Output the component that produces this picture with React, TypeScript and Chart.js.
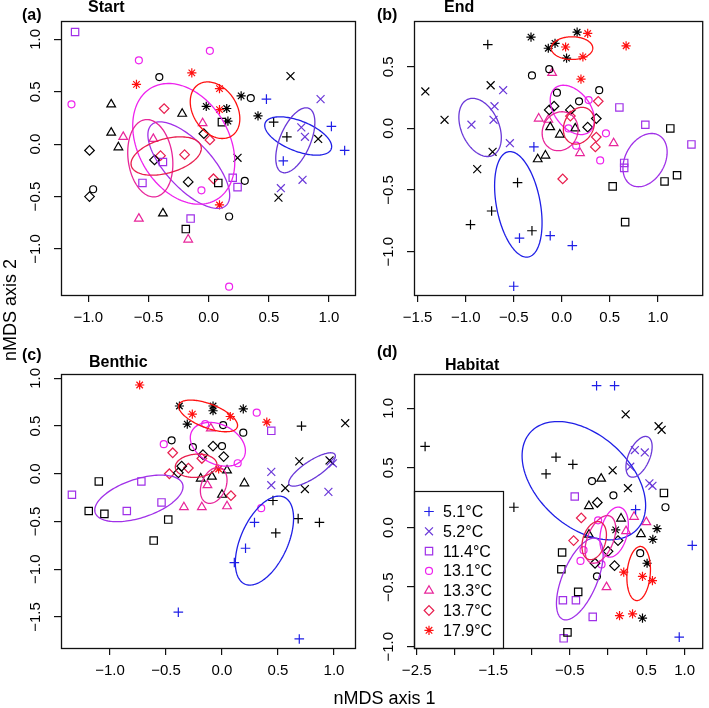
import React, { useEffect, useRef } from "react";
import { Chart, registerables } from "chart.js";
import { drawPoint } from "chart.js/helpers";

Chart.register(...registerables);

type Pt = [number, number];

const W = 709;
const H = 708;
const FONT = "'Liberation Sans', Arial, Helvetica, sans-serif";

// ---------- groups ----------
const GROUP_LABELS = ["5.1°C", "5.2°C", "11.4°C", "13.1°C", "13.3°C", "13.7°C", "17.9°C"];
const GROUP_COLORS = ["#1f1fe6", "#6a38d8", "#a030e8", "#ee22ee", "#e8259a", "#e81e4e", "#ff1010"];
const GROUP_SHAPES = ["cross", "crossRot", "rect", "circle", "triangle", "rectRot", "star"];
const SHAPE_RADIUS: Record<string, number> = {
  cross: 4.8, crossRot: 5.6, rect: 5.2, circle: 3.5, triangle: 5.0, rectRot: 4.8, star: 4.6,
};

// ---------- (a) Start ----------
const start51: Pt[] = [[0.48, 0.43], [1.02, 0.17], [1.13, -0.06], [0.62, -0.16]];
const start51k: Pt[] = [[0.54, 0.21], [0.65, 0.07]];
const start52: Pt[] = [[0.93, 0.43], [0.77, 0.16], [0.8, 0.07], [0.78, -0.34], [0.6, -0.42]];
const start52k: Pt[] = [[0.68, 0.65], [0.24, -0.13], [0.91, 0.05], [0.58, -0.51]];
const start114: Pt[] = [[-1.11, 1.07], [-0.38, -0.17], [-0.55, -0.37], [0.2, -0.32], [0.24, -0.41], [-0.15, -0.71]];
const start114k: Pt[] = [[0.11, 0.21], [0.08, -0.37], [-0.19, -0.81]];
const start131: Pt[] = [[-1.14, 0.38], [-0.58, 0.8], [0.01, 0.89], [-0.06, -0.44], [0.17, -1.36]];
const start131k: Pt[] = [[-0.41, 0.64], [0.35, 0.44], [0.3, -0.35], [0.17, -0.69], [-0.96, -0.43]];
const start133: Pt[] = [[-0.71, 0.07], [-0.46, 0.05], [-0.05, 0.2], [-0.58, -0.71], [-0.17, -0.91]];
const start133k: Pt[] = [[-0.81, 0.38], [-0.81, 0.11], [-0.75, -0.03], [-0.22, 0.29], [-0.38, -0.66]];
const start137: Pt[] = [[-0.37, 0.34], [-0.4, -0.11], [-0.2, -0.1], [0.04, -0.33], [0.01, 0.04]];
const start137k: Pt[] = [[-0.99, -0.06], [-0.99, -0.5], [-0.45, -0.15], [-0.17, -0.36], [-0.04, 0.1]];
const start179: Pt[] = [[-0.6, 0.57], [-0.14, 0.68], [0.09, 0.53], [0.09, 0.33], [0.09, -0.58]];
const start179k: Pt[] = [[-0.02, 0.36], [0.15, 0.34], [0.16, 0.22], [0.27, 0.46], [0.41, 0.27]];
// [group, centre x, centre y, half-width x, half-height y, correlation]
const startEllipses = [
  [0, 0.744, 0.078, 0.278, 0.183, -0.55],
  [1, 0.72, 0.037, 0.1625, 0.31, 0.55],
  [2, -0.165, -0.2, 0.34, 0.413, -0.7],
  [3, -0.207, 0.003, 0.424, 0.576, -0.3],
  [4, -0.485, -0.134, 0.1875, 0.369, -0.15],
  [5, -0.353, -0.113, 0.292, 0.183, 0.4],
  [6, 0.053, 0.324, 0.206, 0.27, -0.3],
];
const startXTicks = [-1, -0.5, 0, 0.5, 1];
const startXLabels = ["−1.0", "−0.5", "0.0", "0.5", "1.0"];
const startYTicks = [-1, -0.5, 0, 0.5, 1];
const startYLabels = ["−1.0", "−0.5", "0.0", "0.5", "1.0"];

// ---------- (b) End ----------
const end51: Pt[] = [[-0.29, -0.15], [-0.44, -0.89], [-0.12, -0.87], [0.11, -0.95], [-0.5, -1.28]];
const end51k: Pt[] = [[-0.77, 0.68], [-0.46, -0.44], [-0.73, -0.67], [-0.95, -0.78], [-0.31, -0.83]];
const end52: Pt[] = [[-0.61, 0.31], [-0.7, 0.18], [-0.71, 0.07], [-0.94, 0.03], [-0.54, -0.12]];
const end52k: Pt[] = [[-1.42, 0.3], [-1.22, 0.07], [-0.74, 0.35], [-0.72, -0.19], [-0.88, -0.33]];
const end114: Pt[] = [[0.6, 0.17], [0.87, 0.03], [1.35, -0.13], [0.65, -0.28], [0.65, -0.32]];
const end114k: Pt[] = [[1.13, 0.0], [0.53, -0.47], [1.07, -0.43], [1.2, -0.38], [0.66, -0.76]];
const end131: Pt[] = [[0.28, 0.23], [0.07, 0.0], [0.46, -0.04], [0.15, -0.14], [0.4, -0.26]];
const end131k: Pt[] = [[-0.31, 0.43], [-0.13, 0.48], [-0.05, 0.29], [0.18, 0.22], [0.39, 0.31]];
const end133: Pt[] = [[-0.1, 0.45], [-0.24, 0.08], [-0.14, 0.07], [0.19, -0.2], [0.54, -0.12]];
const end133k: Pt[] = [[-0.12, 0.01], [-0.02, -0.05], [0.14, 0.0], [-0.17, -0.22], [-0.25, -0.25]];
const end137: Pt[] = [[0.38, 0.22], [0.09, 0.1], [0.36, -0.07], [0.35, -0.15], [0.01, -0.41]];
const end137k: Pt[] = [[-0.13, 0.15], [-0.08, 0.18], [0.09, 0.15], [0.36, 0.08], [0.27, 0.01]];
const end179: Pt[] = [[0.04, 0.66], [0.27, 0.77], [0.22, 0.58], [0.67, 0.67], [0.2, 0.4]];
const end179k: Pt[] = [[-0.32, 0.74], [-0.14, 0.65], [-0.07, 0.69], [0.05, 0.57], [0.16, 0.78]];
const endEllipses = [
  [0, -0.452, -0.616, 0.247, 0.428, -0.35],
  [1, -0.85, 0.008, 0.221, 0.236, -0.35],
  [2, 0.867, -0.257, 0.23, 0.216, 0.3],
  [3, 0.11, 0.15, 0.23, 0.2, -0.4],
  [4, -0.017, -0.023, 0.187, 0.158, 0.1],
  [5, 0.179, 0.022, 0.162, 0.149, 0.2],
  [6, 0.107, 0.651, 0.216, 0.092, 0.0],
];
const endXTicks = [-1.5, -1, -0.5, 0, 0.5, 1];
const endXLabels = ["−1.5", "−1.0", "−0.5", "0.0", "0.5", "1.0"];
const endYTicks = [-1, -0.5, 0, 0.5];
const endYLabels = ["−1.0", "−0.5", "0.0", "0.5"];

// ---------- (c) Benthic ----------
const benthic51: Pt[] = [[0.11, -0.93], [0.21, -0.78], [0.29, -0.51], [-0.39, -1.45], [0.69, -1.73]];
const benthic51k: Pt[] = [[0.455, -0.28], [0.48, -0.62], [0.68, -0.47], [0.87, -0.51], [0.71, 0.5]];
const benthic52: Pt[] = [[0.44, 0.02], [0.44, -0.12], [0.95, -0.19], [0.99, 0.11], [0.97, 0.13]];
const benthic52k: Pt[] = [[0.565, -0.15], [0.74, -0.16], [0.69, 0.13], [1.1, 0.53], [0.96, 0.14]];
const benthic114: Pt[] = [[-1.34, -0.22], [-0.72, -0.08], [-0.54, -0.3], [-0.85, -0.39], [0.44, 0.45]];
const benthic114k: Pt[] = [[-1.1, -0.08], [-1.19, -0.39], [-1.05, -0.42], [-0.48, -0.48], [-0.61, -0.7]];
const benthic131: Pt[] = [[-0.52, 0.31], [-0.15, 0.52], [0.31, 0.64], [0.14, 0.11], [0.35, -0.36]];
const benthic131k: Pt[] = [[-0.45, 0.35], [-0.26, 0.28], [0.01, 0.51], [0.0, 0.29], [0.19, 0.43]];
const benthic133: Pt[] = [[-0.1, 0.475], [-0.13, -0.12], [-0.34, -0.35], [-0.18, -0.35], [0.045, -0.34]];
const benthic133k: Pt[] = [[-0.19, -0.05], [-0.09, -0.03], [0.045, 0.035], [0.2, -0.1], [0.0, -0.22]];
const benthic137: Pt[] = [[-0.44, 0.22], [-0.3, 0.06], [-0.47, 0.0], [-0.18, 0.16], [0.08, -0.23]];
const benthic137k: Pt[] = [[-0.39, 0.01], [-0.36, 0.08], [-0.17, 0.2], [-0.08, 0.29], [0.015, 0.18]];
const benthic179: Pt[] = [[-0.735, 0.93], [-0.265, 0.625], [0.074, 0.6], [0.4, 0.54], [-0.03, 0.05]];
const benthic179k: Pt[] = [[-0.38, 0.71], [-0.31, 0.52], [-0.08, 0.71], [-0.08, 0.66], [0.19, 0.68]];
const benthicEllipses = [
  [0, 0.379, -0.7, 0.26, 0.466, 0.5],
  [1, 0.804, 0.045, 0.208, 0.175, 0.8],
  [2, -0.742, -0.258, 0.394, 0.244, 0.5],
  [3, -0.037, 0.309, 0.246, 0.229, -0.3],
  [4, -0.074, -0.122, 0.119, 0.188, 0.3],
  [5, -0.231, 0.084, 0.186, 0.122, 0.1],
  [6, -0.124, 0.606, 0.263, 0.166, -0.6],
];
const benthicXTicks = [-1, -0.5, 0, 0.5, 1];
const benthicXLabels = ["−1.0", "−0.5", "0.0", "0.5", "1.0"];
const benthicYTicks = [-1.5, -1, -0.5, 0, 0.5, 1];
const benthicYLabels = ["−1.5", "−1.0", "−0.5", "0.0", "0.5", "1.0"];

// ---------- (d) Habitat ----------
const habitat51: Pt[] = [[-0.15, 1.19], [0.085, 1.19], [0.36, 0.15], [1.1, -0.15], [0.93, -0.92]];
const habitat51k: Pt[] = [[-2.39, 0.68], [-1.23, 0.17], [-0.81, 0.45], [-0.68, 0.59], [-0.46, 0.53]];
const habitat52: Pt[] = [[0.35, 0.65], [0.48, 0.63], [0.29, 0.51], [0.54, 0.37], [0.58, 0.35]];
const habitat52k: Pt[] = [[0.23, 0.95], [0.66, 0.85], [0.7, 0.82], [0.06, 0.48], [0.26, 0.33]];
const habitat114: Pt[] = [[-0.435, 0.26], [-0.59, -0.61], [-0.42, -0.61], [-0.2, -0.75], [-0.58, -0.93]];
const habitat114k: Pt[] = [[0.73, 0.29], [-0.6, -0.21], [-0.61, -0.35], [-0.39, -0.54], [-0.53, -0.88]];
const habitat131: Pt[] = [[-0.13, 0.06], [-0.32, -0.19], [-0.36, -0.28], [-0.085, -0.31]];
const habitat131k: Pt[] = [[-0.21, 0.39], [0.07, 0.27], [0.75, 0.17], [0.42, -0.215], [-0.145, -0.41]];
const habitat133: Pt[] = [[0.34, 0.09], [0.5, 0.045], [0.235, -0.03], [-0.02, -0.5]];
const habitat133k: Pt[] = [[-0.09, 0.41], [-0.25, 0.18], [0.17, 0.075], [0.43, -0.055], [-0.25, -0.06]];
const habitat137: Pt[] = [[-0.35, 0.08], [-0.45, -0.11]];
const habitat137k: Pt[] = [[-0.14, 0.21], [0.13, -0.11], [0.0, -0.2], [-0.17, -0.3], [0.085, -0.32]];
const habitat179: Pt[] = [[0.205, -0.375], [0.45, -0.41], [0.58, -0.445], [0.15, -0.74], [0.32, -0.725]];
const habitat179k: Pt[] = [[0.1, -0.02], [0.64, -0.01], [0.585, -0.1], [0.51, -0.3], [0.45, -0.76]];
const habitatEllipses = [
  [0, -0.316, 0.393, 0.807, 0.496, -0.42],
  [1, 0.405, 0.593, 0.171, 0.171, 0.5],
  [2, -0.369, -0.432, 0.305, 0.343, 0.6],
  [3, 0.079, -0.039, 0.186, 0.21, 0.3],
  [4, -0.1, -0.1, 0.2, 0.2, 0.45],
  [5, -0.181, -0.11, 0.16, 0.16, 0.3],
  [6, 0.4, -0.386, 0.154, 0.227, 0.15],
];
const habitatXTicks = [-2.5, -2, -1.5, -1, -0.5, 0, 0.5, 1];
const habitatXLabels = ["−2.5", "", "−1.5", "", "−0.5", "", "0.5", "1.0"];
const habitatYTicks = [-1, -0.5, 0, 0.5, 1];
const habitatYLabels = ["−1.0", "−0.5", "0.0", "0.5", "1.0"];

const AXIS_TITLE_X = "nMDS axis 1";
const AXIS_TITLE_Y = "nMDS axis 2";

// ---------- panel layout ----------
const PANELS = [
  {
    tag: "(a)", title: "Start", tagPos: [22, 20], titlePos: [88, 12],
    box: [61, 21, 355, 295], xr: [-1.227, 1.216], yr: [-1.439, 1.175],
    xTicks: startXTicks, xLabels: startXLabels, yTicks: startYTicks, yLabels: startYLabels,
    colored: [start51, start52, start114, start131, start133, start137, start179],
    black: [start51k, start52k, start114k, start131k, start133k, start137k, start179k],
    ellipses: startEllipses, legend: false,
  },
  {
    tag: "(b)", title: "End", tagPos: [377, 20], titlePos: [444, 12],
    box: [414, 21, 708, 295], xr: [-1.538, 1.462], yr: [-1.351, 0.871],
    xTicks: endXTicks, xLabels: endXLabels, yTicks: endYTicks, yLabels: endYLabels,
    colored: [end51, end52, end114, end131, end133, end137, end179],
    black: [end51k, end52k, end114k, end131k, end133k, end137k, end179k],
    ellipses: endEllipses, legend: false,
  },
  {
    tag: "(c)", title: "Benthic", tagPos: [22, 360], titlePos: [89, 367],
    box: [61, 374, 355, 648], xr: [-1.4375, 1.1875], yr: [-1.825, 1.045],
    xTicks: benthicXTicks, xLabels: benthicXLabels, yTicks: benthicYTicks, yLabels: benthicYLabels,
    colored: [benthic51, benthic52, benthic114, benthic131, benthic133, benthic137, benthic179],
    black: [benthic51k, benthic52k, benthic114k, benthic131k, benthic133k, benthic137k, benthic179k],
    ellipses: benthicEllipses, legend: false,
  },
  {
    tag: "(d)", title: "Habitat", tagPos: [377, 357], titlePos: [445, 370],
    box: [414, 374, 708, 648], xr: [-2.535, 1.23], yr: [-1.011, 1.288],
    xTicks: habitatXTicks, xLabels: habitatXLabels, yTicks: habitatYTicks, yLabels: habitatYLabels,
    colored: [habitat51, habitat52, habitat114, habitat131, habitat133, habitat137, habitat179],
    black: [habitat51k, habitat52k, habitat114k, habitat131k, habitat133k, habitat137k, habitat179k],
    ellipses: habitatEllipses, legend: true,
  },
];

const YAXIS_W = 50;
const XAXIS_H = 40;
const LEGEND_BOX = [414, 491, 503, 648];
const LEGEND_Y0 = 511.5;
const LEGEND_DY = 19.8;
const LEGEND_SYM_X = 429;
const LEGEND_TEXT_X = 443;

function buildChart(canvas: HTMLCanvasElement, p: any, drawOuter: boolean) {
  const [L, T, R, B] = p.box;
  const datasets: any[] = [];
  const add = (pts: Pt[], g: number, color: string) => {
    const shape = GROUP_SHAPES[g];
    datasets.push({
      data: pts.map(([x, y]) => ({ x, y })),
      pointStyle: shape,
      pointRadius: SHAPE_RADIUS[shape],
      pointHoverRadius: SHAPE_RADIUS[shape],
      pointBorderColor: color,
      pointBackgroundColor: "rgba(0,0,0,0)",
      pointBorderWidth: 1.2,
      borderColor: color,
      backgroundColor: "rgba(0,0,0,0)",
      showLine: false,
    });
  };
  p.black.forEach((pts: Pt[], g: number) => add(pts, g, "#000"));
  p.colored.forEach((pts: Pt[], g: number) => add(pts, g, GROUP_COLORS[g]));

  const decor = {
    id: "decor",
    afterDatasetsDraw(chart: any) {
      const { ctx, chartArea: a } = chart;
      const xs = chart.scales.x;
      const ys = chart.scales.y;
      // ellipses
      ctx.save();
      ctx.beginPath();
      ctx.rect(a.left, a.top, a.right - a.left, a.bottom - a.top);
      ctx.clip();
      ctx.lineWidth = 1.3;
      for (const [g, cx, cy, rx, ry, rho] of p.ellipses) {
        ctx.strokeStyle = GROUP_COLORS[g];
        const s = Math.sqrt(1 - rho * rho);
        ctx.beginPath();
        for (let i = 0; i <= 140; i++) {
          const t = (i / 140) * Math.PI * 2;
          const ex = cx + rx * Math.cos(t);
          const ey = cy + ry * (rho * Math.cos(t) + s * Math.sin(t));
          const px = xs.getPixelForValue(ex);
          const py = ys.getPixelForValue(ey);
          if (i === 0) ctx.moveTo(px, py);
          else ctx.lineTo(px, py);
        }
        ctx.closePath();
        ctx.stroke();
      }
      ctx.restore();

      // legend
      if (p.legend) {
        const [lx0, ly0, lx1, ly1] = LEGEND_BOX;
        ctx.save();
        ctx.fillStyle = "#fff";
        ctx.fillRect(lx0, ly0, lx1 - lx0, ly1 - ly0);
        ctx.strokeStyle = "#111";
        ctx.lineWidth = 1.2;
        ctx.strokeRect(lx0 + 0.5, ly0 + 0.5, lx1 - lx0, ly1 - ly0);
        GROUP_LABELS.forEach((lab, g) => {
          const yy = LEGEND_Y0 + g * LEGEND_DY;
          ctx.strokeStyle = GROUP_COLORS[g];
          ctx.fillStyle = "rgba(0,0,0,0)";
          ctx.lineWidth = 1.2;
          drawPoint(ctx, { pointStyle: GROUP_SHAPES[g], radius: SHAPE_RADIUS[GROUP_SHAPES[g]], rotation: 0, borderWidth: 1.2 } as any, LEGEND_SYM_X, yy);
          ctx.fillStyle = "#000";
          ctx.font = `16px ${FONT}`;
          ctx.textAlign = "left";
          ctx.textBaseline = "middle";
          ctx.fillText(lab, LEGEND_TEXT_X, yy + 1);
        });
        ctx.restore();
      }

      // box
      ctx.save();
      ctx.strokeStyle = "#111";
      ctx.lineWidth = 1.3;
      ctx.strokeRect(a.left + 0.5, a.top + 0.5, a.right - a.left, a.bottom - a.top);
      ctx.restore();

      // panel tag and title
      ctx.save();
      ctx.fillStyle = "#000";
      ctx.font = `bold 16px ${FONT}`;
      ctx.textAlign = "left";
      ctx.textBaseline = "alphabetic";
      ctx.fillText(p.tag, p.tagPos[0], p.tagPos[1]);
      ctx.fillText(p.title, p.titlePos[0], p.titlePos[1]);
      ctx.restore();

      if (drawOuter) {
        ctx.save();
        ctx.fillStyle = "#000";
        ctx.font = `18px ${FONT}`;
        ctx.textAlign = "center";
        ctx.textBaseline = "alphabetic";
        ctx.fillText(AXIS_TITLE_X, 384.5, 704);
        ctx.translate(16, 310);
        ctx.rotate(-Math.PI / 2);
        ctx.fillText(AXIS_TITLE_Y, 0, 0);
        ctx.restore();
      }
    },
  };

  const grid = {
    display: true,
    drawOnChartArea: false,
    drawTicks: true,
    tickLength: 7,
    color: "#111",
    tickColor: "#111",
    lineWidth: 1.2,
  };

  return new Chart(canvas, {
    type: "scatter",
    data: { datasets },
    options: {
      animation: false,
      responsive: false,
      devicePixelRatio: 1,
      events: [],
      layout: { padding: { left: L - YAXIS_W, top: T, right: W - R, bottom: H - B - XAXIS_H } },
      plugins: { legend: { display: false }, tooltip: { enabled: false }, title: { display: false } },
      scales: {
        x: {
          type: "linear",
          position: "bottom",
          min: p.xr[0],
          max: p.xr[1],
          bounds: "data",
          afterBuildTicks: (s: any) => { s.ticks = p.xTicks.map((v: number) => ({ value: v })); },
          afterFit: (s: any) => { s.height = XAXIS_H; },
          grid,
          border: { display: false },
          ticks: {
            color: "#000",
            font: { family: FONT, size: 15 },
            padding: 7,
            autoSkip: false,
            maxRotation: 0,
            minRotation: 0,
            callback: (_v: any, i: number) => p.xLabels[i],
          },
        },
        y: {
          type: "linear",
          position: "left",
          min: p.yr[0],
          max: p.yr[1],
          bounds: "data",
          afterBuildTicks: (s: any) => { s.ticks = p.yTicks.map((v: number) => ({ value: v })); },
          afterFit: (s: any) => { s.width = YAXIS_W; },
          grid,
          border: { display: false },
          ticks: {
            color: "#000",
            font: { family: FONT, size: 15 },
            padding: 3,
            autoSkip: false,
            minRotation: 90,
            maxRotation: 90,
            crossAlign: "center",
            callback: (_v: any, i: number) => p.yLabels[i],
          },
        },
      },
    } as any,
    plugins: [decor],
  });
}

export default function App() {
  const refs = useRef<(HTMLCanvasElement | null)[]>([]);
  useEffect(() => {
    const charts = PANELS.map((p, i) => buildChart(refs.current[i] as HTMLCanvasElement, p, i === 0));
    return () => charts.forEach((c) => c.destroy());
  }, []);
  return (
    <div style={{ position: "fixed", left: 0, top: 0, width: W, height: H, background: "#fff" }}>
      {PANELS.map((_p, i) => (
        <canvas
          key={i}
          ref={(el) => { refs.current[i] = el; }}
          width={W}
          height={H}
          style={{ position: "absolute", left: 0, top: 0, width: W, height: H }}
        />
      ))}
    </div>
  );
}
